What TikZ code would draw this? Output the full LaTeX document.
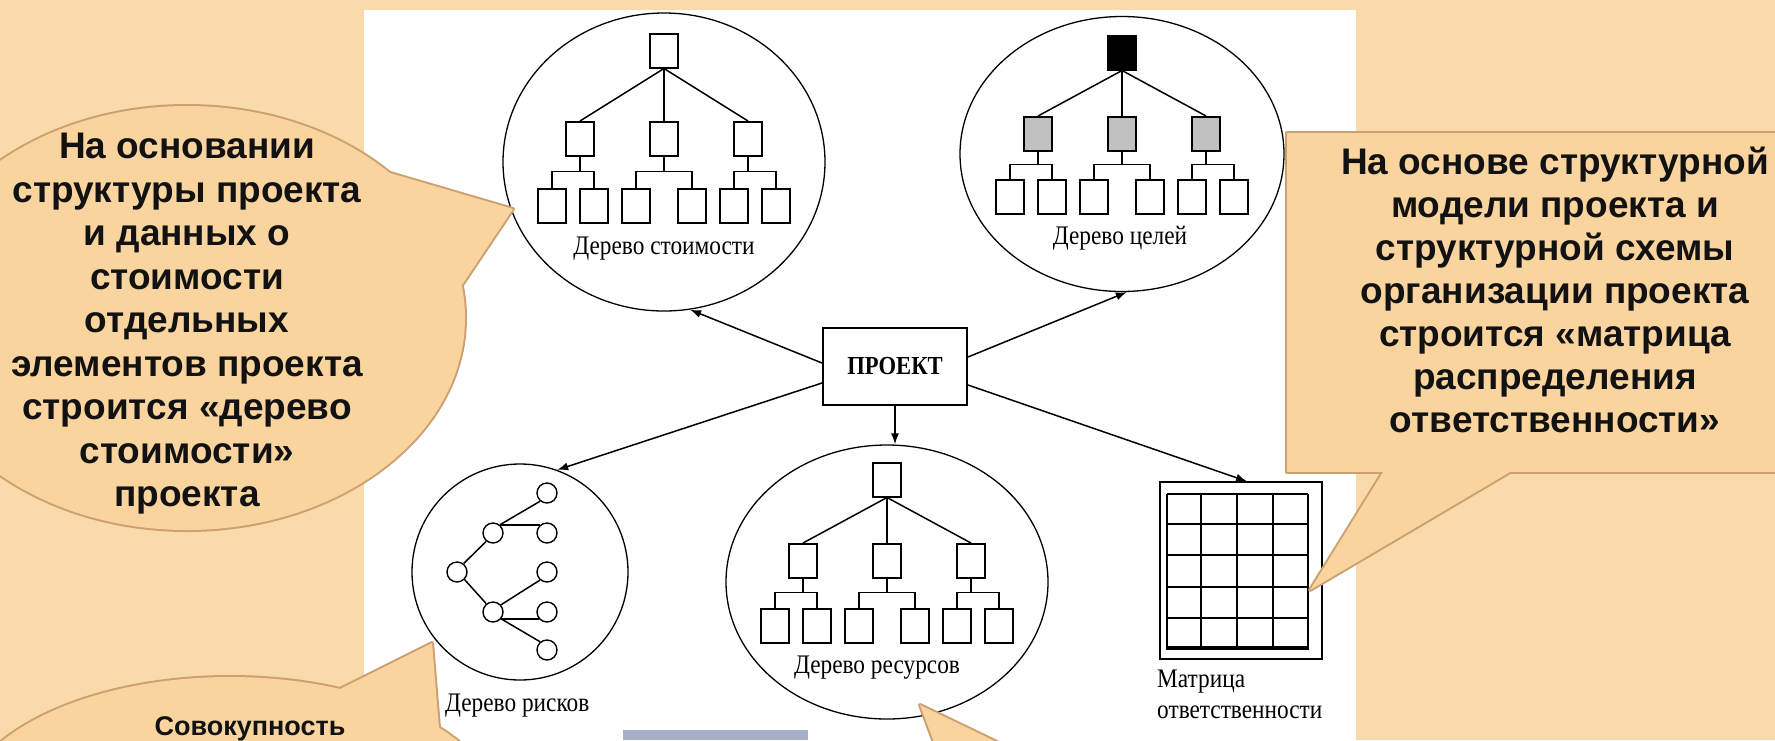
\documentclass[tikz,border=0pt]{standalone}
\usepackage{fontspec}
\setmainfont{Liberation Sans}
\newfontfamily\lblfont[FakeStretch=0.87]{Liberation Serif}
\usetikzlibrary{shapes.geometric,arrows.meta,calc}

\definecolor{slidebg}{HTML}{F9DAAA}
\definecolor{callfill}{HTML}{F9D49E}
\definecolor{calledge}{HTML}{CDA072}
\definecolor{stripe}{HTML}{A6AEC8}
\definecolor{midgray}{HTML}{C0C0C0}

% tree of boxes: prefix, centre x, root top, root fill, level fill, level-2 top, level-3 top
\newcommand{\orgtree}[7]{%
  \node[tbox, fill=#4] (#1r) at (#2, #3) {};
  \foreach \i/\dx in {1/-84, 2/0, 3/84}
    \node[tbox, fill=#5] (#1m\i) at (#2+\dx, #3+#6) {};
  \foreach \j/\dx in {1/-112, 2/-70, 3/-28, 4/28, 5/70, 6/112}
    \node[tbox] (#1l\j) at (#2+\dx, #3+#7) {};
  \coordinate (#1b) at (#2, #3+#6/2+#7/2+17);
  \foreach \i/\a/\b in {1/1/2, 2/3/4, 3/5/6} {
    \draw[tline] (#1r.south) -- (#1m\i.north);
    \draw[tline] (#1m\i.south) -- (#1m\i.south |- #1b);
    \draw[tline] (#1l\a.north) |- (#1b -| #1l\b.north) -- (#1l\b.north);
  }
}

\begin{document}
\begin{tikzpicture}[
  x = 1pt, y = -1pt,
  tbox/.style = {
    draw, fill = white, anchor = north,
    line width = 1.5pt,
    minimum width = 28pt, minimum height = 34pt,
    inner sep = 0pt
  },
  tline/.style = {line width = 1.5pt},
  rnode/.style = {
    shape = circle, draw, line width = 1.4pt,
    minimum size = 20pt, inner sep = 0pt
  },
  oval/.style = {shape = ellipse, draw, line width = 1.3pt, inner sep = 0pt},
  lbl/.style = {font = \lblfont\fontsize{26.8}{31}\selectfont, inner sep = 0pt},
  link/.style = {line width = 1.5pt, -{Latex[length=11pt, width=8pt]}},
  cellline/.style = {line width = 2pt},
  callline/.style = {draw = calledge, line width = 4pt, line join = round},
  calltext/.style = {
    font = \bfseries\fontsize{37}{43.5}\selectfont,
    align = center, text = black!93, inner sep = 0pt
  }
]
  \useasboundingbox (0,0) rectangle (1775,740);
  \clip (0,0) rectangle (1775,740);

  % slide and picture panel
  \fill[slidebg] (0,0) rectangle (1775,740);
  \fill[white] (364,10) rectangle (1356,740);
  \fill[stripe] (623,730) rectangle (808,740);

  % the four ovals
  \node[oval, minimum width = 322pt, minimum height = 298pt] (cost) at (664,162) {};
  \node[oval, minimum width = 324pt, minimum height = 275pt] (goal) at (1122,154) {};
  \node[oval, minimum width = 216pt, minimum height = 216pt] (risk) at (520,572) {};
  \node[oval, minimum width = 322pt, minimum height = 274pt] (res) at (887,582) {};

  % trees of boxes
  \orgtree{ct}{664}{33}{white}{white}{88}{155}
  \orgtree{gt}{1122}{35}{black}{midgray}{81}{144}
  \orgtree{rt}{887}{462}{white}{white}{81}{146}

  % risk tree
  \node[rnode] (k1) at (457,572) {};
  \node[rnode] (k2) at (493,533) {};
  \node[rnode] (k3) at (493,612) {};
  \node[rnode] (k4) at (547,493) {};
  \node[rnode] (k5) at (547,533) {};
  \node[rnode] (k6) at (547,572) {};
  \node[rnode] (k7) at (547,612) {};
  \node[rnode] (k8) at (547,650) {};

  \draw[tline] (k1.52) -- (k2.231);
  \draw[tline] (k1.-45) -- (k3.129);
  \draw[tline] (k2.50) -- (k4.230);
  \draw[tline] (k2.50) -- (k5.130);
  \draw[tline] (k3.42) -- (k6.229);
  \draw[tline] (k3.-40) -- (k7.-140);
  \draw[tline] (k3.-40) -- (k8.130);

  % responsibility matrix
  \node[draw, line width = 1.3pt, minimum width = 162pt, minimum height = 177pt,
    inner sep = 0pt] (mat) at (1241,570.5) {};
  \foreach \x in {1167, 1201, 1237, 1273, 1308}
    \draw[cellline] (\x,494) -- (\x,649);
  \foreach \y in {494, 524, 555, 587, 618}
    \draw[cellline] (1167,\y) -- (1308,\y);
  \draw[line width = 3.5pt] (1166,648) -- (1309,648);

  % project box and links
  \node[draw, fill = white, line width = 2pt, minimum width = 144pt, minimum height = 77pt,
    font = \lblfont\bfseries\fontsize{26}{30}\selectfont] (proj) at (895,366) {ПРОЕКТ};

  \draw[link] ([yshift=3pt]proj.west) -- (cost.-80);
  \draw[link] ([yshift=9pt]proj.east) -- (goal.-88);
  \draw[link] ([yshift=-17pt]proj.west) -- (risk.70);
  \draw[link] (proj.south) -- (proj.south |- res.north);
  \draw[link] ([yshift=-19pt]proj.east) -- ([xshift=6pt]mat.north);

  % labels
  \node[lbl, anchor = base] (costlbl) at (664,254) {Дерево стоимости};
  \node[lbl, anchor = base] (goallbl) at (1120,244) {Дерево целей};
  \node[lbl, anchor = base] (reslbl) at (877,673) {Дерево ресурсов};
  \node[lbl, anchor = base west] (risklbl) at (445,711) {Дерево рисков};
  \node[lbl, anchor = north west, align = left] (matlbl) at (1157,670)
    {Матрица\\ответственности};

  % callout: cost tree
  \draw[callline] (187,318) ellipse [x radius = 278, y radius = 212];
  \draw[callline] (390,173) -- (513,209) -- (462,285) -- cycle;
  \fill[callfill] (187,318) ellipse [x radius = 278, y radius = 212];
  \fill[callfill] (390,173) -- (513,209) -- (462,285) -- cycle;

  % callout: risk tree
  \draw[callline] (230,815) ellipse [x radius = 270, y radius = 138];
  \draw[callline] (340,689) -- (432,643) -- (439,728) -- cycle;
  \fill[callfill] (230,815) ellipse [x radius = 270, y radius = 138];
  \fill[callfill] (340,689) -- (432,643) -- (439,728) -- cycle;

  % callout: resource tree
  \draw[callline] (935,745) -- (920,705) -- (1003,745);
  \fill[callfill] (935,745) -- (920,705) -- (1003,745) -- cycle;

  % callout: matrix
  \draw[callline] (1287,133) rectangle (1800,472);
  \draw[callline] (1383,472) -- (1310,590) -- (1510,472) -- cycle;
  \fill[callfill] (1287,133) rectangle (1800,472);
  \fill[callfill] (1383,472) -- (1310,590) -- (1510,472) -- cycle;

  \node[calltext] (costnote) at (187,324)
    {На основании\\структуры проекта\\и данных о\\стоимости\\отдельных\\элементов проекта\\строится «дерево\\стоимости»\\проекта};
  \node[calltext, font = \bfseries\fontsize{37}{43}\selectfont] (matnote) at (1555,290)
    {На основе структурной\\модели проекта и\\структурной схемы\\организации проекта\\строится «матрица\\распределения\\ответственности»};
  \node[calltext, font = \bfseries\fontsize{27}{32}\selectfont, anchor = base] (risknote)
    at (250,735) {Совокупность};
\end{tikzpicture}
\end{document}
